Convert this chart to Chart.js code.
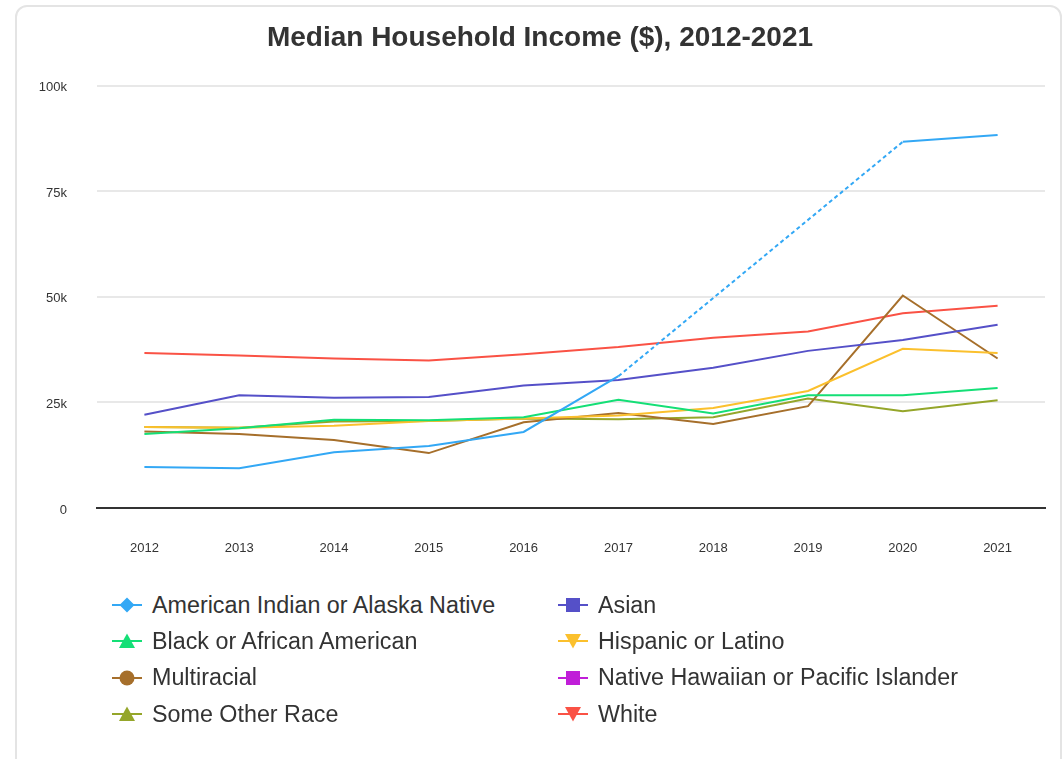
<!DOCTYPE html>
<html>
<head>
<meta charset="utf-8">
<script src="https://cdn.jsdelivr.net/npm/chart.js@4"></script>
<style>
  body { margin: 0; background: #fff; font-family: "Liberation Sans", Arial, sans-serif; }
  .card {
    position: absolute; left: 15px; top: 5px; width: 1047px; height: 820px;
    box-sizing: border-box; border: 2px solid #e4e4e4; border-radius: 12px;
  }
  #myChart { position: absolute; left: 17px; top: 0; }
  .legend {
    position: absolute; left: 112px; top: 587px;
    display: grid; grid-template-columns: 446px 446px; grid-auto-rows: 36.3px;
  }
  .legend .item { display: flex; align-items: center; font-size: 23.3px; color: #333; }
  .legend canvas { margin-right: 10px; }
</style>
</head>
<body>
<div class="card"></div>
<canvas id="myChart" width="1046" height="570"></canvas>
<div class="legend" id="legend"></div>
<script>
const years = ['2012', '2013', '2014', '2015', '2016', '2017', '2018', '2019', '2020', '2021'];
const yTicks = [0, 25000, 50000, 75000, 100000];

const americanIndian = [9700, 9400, 13200, 14700, 18000, 31200, null, null, 86700, 88300];
const asian = [22100, 26700, 26100, 26300, 29000, 30300, 33200, 37200, 39800, 43400];
const black = [17500, 18900, 20900, 20800, 21500, 25600, 22400, 26700, 26700, 28400];
const hispanic = [19200, 19000, 19500, 20600, 21200, 21900, 23700, 27700, 37700, 36700];
const multiracial = [18100, 17500, 16100, 13000, 20300, 22500, 19900, 24100, 50300, 35400];
const nativeHawaiian = [null, null, null, null, null, null, null, null, null, null];
const someOther = [19200, 19000, 20500, 20600, 21200, 21000, 21500, 25900, 22900, 25500];
const white = [36700, 36100, 35400, 34900, 36400, 38100, 40300, 41800, 46100, 47900];

const series = [
    {label: 'American Indian or Alaska Native', data: americanIndian, color: '#33a8f5', style: 'rectRot', rot: 0},
    {label: 'Asian', data: asian, color: '#5550c8', style: 'rect', rot: 0},
    {label: 'Black or African American', data: black, color: '#14df76', style: 'triangle', rot: 0},
    {label: 'Hispanic or Latino', data: hispanic, color: '#fbc02d', style: 'triangle', rot: 180},
    {label: 'Multiracial', data: multiracial, color: '#a66f2b', style: 'circle', rot: 0},
    {label: 'Native Hawaiian or Pacific Islander', data: nativeHawaiian, color: '#c01ed8', style: 'rect', rot: 0},
    {label: 'Some Other Race', data: someOther, color: '#95a62a', style: 'triangle', rot: 0},
    {label: 'White', data: white, color: '#fa5245', style: 'triangle', rot: 180}
];

function gapDash(ctx) {
    return ctx.p0.skip || ctx.p1.skip ? [4, 3] : undefined;
}

const datasets = series.map(s => ({
    label: s.label,
    data: s.data,
    borderColor: s.color,
    backgroundColor: s.color,
    borderWidth: 2,
    pointRadius: 0,
    pointHoverRadius: 0,
    tension: 0,
    spanGaps: true,
    segment: { borderDash: gapDash }
}));

// legend: little line with the marker on it, then the name
function drawIcon(s) {
    let c = document.createElement('canvas');
    c.width = 30; c.height = 22;
    let g = c.getContext('2d');
    g.strokeStyle = s.color;
    g.lineWidth = 2;
    g.beginPath(); g.moveTo(0, 11); g.lineTo(30, 11); g.stroke();
    g.fillStyle = s.color;
    g.beginPath();
    if (s.style === 'circle') {
        g.arc(15, 11, 7.5, 0, Math.PI * 2);
    } else if (s.style === 'rect') {
        g.rect(8, 4, 14, 14);
    } else if (s.style === 'rectRot') {
        g.moveTo(15, 3.5); g.lineTo(22.5, 11); g.lineTo(15, 18.5); g.lineTo(7.5, 11); g.closePath();
    } else if (s.rot === 180) {
        g.moveTo(7, 4); g.lineTo(23, 4); g.lineTo(15, 18.5); g.closePath();
    } else {
        g.moveTo(15, 3.5); g.lineTo(23, 18); g.lineTo(7, 18); g.closePath();
    }
    g.fill();
    return c;
}

let legendBox = document.getElementById('legend');
for (let s of series) {
    let item = document.createElement('div');
    item.className = 'item';
    item.appendChild(drawIcon(s));
    let span = document.createElement('span');
    span.textContent = s.label;
    item.appendChild(span);
    legendBox.appendChild(item);
}

let ctx = document.getElementById('myChart').getContext('2d');
new Chart(ctx, {
    type: 'line',
    data: { labels: years, datasets: datasets },
    options: {
        responsive: false,
        animation: false,
        layout: { padding: { left: 18, right: 18, top: 0, bottom: 12 } },
        plugins: {
            legend: { display: false },
            tooltip: { enabled: false },
            title: {
                display: true,
                text: 'Median Household Income ($), 2012-2021',
                color: '#333',
                font: { family: '"Liberation Sans", Arial, sans-serif', size: 28, weight: 'bold' },
                padding: { top: 21, bottom: 31 }
            }
        },
        scales: {
            x: {
                offset: true,
                grid: { display: false },
                border: { display: true, color: '#333', width: 2 },
                ticks: { color: '#333', padding: 25, font: { family: '"Liberation Sans", Arial, sans-serif', size: 13 } },
                afterFit: s => { s.height = 50; }
            },
            y: {
                min: 0,
                max: 100000,
                afterBuildTicks: s => { s.ticks = yTicks.map(v => ({ value: v })); },
                grid: { color: '#e8e8e8', lineWidth: 2, drawTicks: false },
                border: { display: false },
                ticks: {
                    color: '#333',
                    padding: 30,
                    labelOffset: 2,
                    font: { family: '"Liberation Sans", Arial, sans-serif', size: 13 },
                    callback: v => v === 0 ? '0' : (v / 1000) + 'k'
                },
                afterFit: s => { s.width = 62; }
            }
        }
    }
});
</script>
</body>
</html>
